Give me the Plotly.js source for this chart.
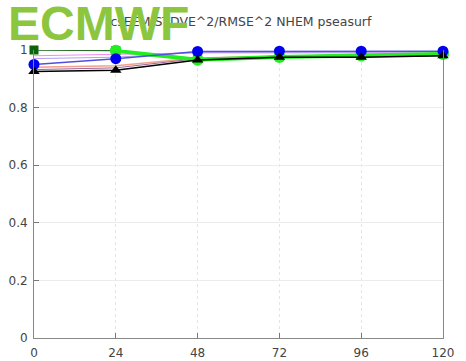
<!DOCTYPE html>
<html><head><meta charset="utf-8">
<script src="https://cdn.plot.ly/plotly-3.0.1.min.js"></script>
<style>body{margin:0;padding:0;background:#fff}#chart{width:466px;height:361px}</style>
</head><body><div id="chart"></div>
<script>
const steps = [0, 24, 48, 72, 96, 120];
const yTicks = [0, 0.2, 0.4, 0.6, 0.8, 1];
const yTickText = ["0", "0.2", "0.4", "0.6", "0.8", "1"];
const seriesMagenta = [0.980, 0.985, 0.990, 0.990, 0.990, 0.990];
const seriesViolet = [0.970, 0.975, 0.992, 0.993, 0.993, 0.993];
const seriesSalmon = [0.940, 0.945, 0.972, 0.978, 0.978, 0.982];
const seriesPurple = [0.932, 0.938, 0.970, 0.976, 0.976, 0.980];
const seriesDarkGreen = [1.000, 0.998, 0.968, 0.978, 0.983, 0.988];
const seriesLime = [null, 0.997, 0.966, 0.976, 0.981, 0.986];
const seriesBlue = [0.950, 0.970, 0.995, 0.996, 0.996, 0.996];
const seriesBlack = [0.925, 0.930, 0.965, 0.975, 0.975, 0.980];
const chartTitle = "csEEM STDVE^2/RMSE^2 NHEM pseasurf";
const logoText = "ECMWF";

const traces = [
  {x: steps, y: seriesMagenta, mode: 'lines', line: {color: '#f08cf0', width: 1}},
  {x: steps, y: seriesViolet, mode: 'lines', line: {color: '#b4a0f0', width: 1}},
  {x: steps, y: seriesSalmon, mode: 'lines', line: {color: '#f0a08c', width: 1.5}},
  {x: steps, y: seriesPurple, mode: 'lines', line: {color: '#a06496', width: 1}},
  {x: steps, y: seriesDarkGreen, mode: 'lines+markers', line: {color: '#2a6e2a', width: 1.5}, marker: {symbol: 'square', size: 9, color: '#0a640a'}},
  {x: steps, y: seriesLime, mode: 'lines+markers', line: {color: '#22ee22', width: 4}, marker: {symbol: 'circle', size: 12, color: '#22ee22'}},
  {x: steps, y: seriesBlue, mode: 'lines+markers', line: {color: '#5050e0', width: 1.5}, marker: {symbol: 'circle', size: 11, color: '#0000ee'}},
  {x: steps, y: seriesBlack, mode: 'lines+markers', line: {color: '#000000', width: 1.5}, marker: {symbol: 'triangle-up', size: 10, color: '#000000'}}
];
traces.forEach(t => { t.cliponaxis = false; t.showlegend = false; t.hoverinfo = 'skip'; });

const layout = {
  width: 466, height: 361,
  margin: {l: 34, r: 23, t: 50, b: 23, pad: 0},
  paper_bgcolor: '#ffffff', plot_bgcolor: '#ffffff',
  showlegend: false,
  title: {text: chartTitle, x: 0.517, xanchor: 'center', y: 0.94, yanchor: 'middle',
          font: {family: 'DejaVu Sans, sans-serif', size: 12.5, color: '#444444'}},
  xaxis: {range: [0, 120], tickvals: steps, ticktext: steps.map(String),
          ticks: 'inside', ticklen: 5, tickcolor: '#777777', ticklabelstandoff: 4,
          showline: true, linecolor: '#888888', linewidth: 1, mirror: false,
          showgrid: true, gridcolor: '#e4e4e4', griddash: 'dot', gridwidth: 1,
          zeroline: false, fixedrange: true,
          tickfont: {family: 'DejaVu Sans, sans-serif', size: 12, color: '#444444'}},
  yaxis: {range: [0, 1], tickvals: yTicks, ticktext: yTickText,
          ticks: 'inside', ticklen: 5, tickcolor: '#777777', ticklabelstandoff: 3,
          showline: true, linecolor: '#888888', linewidth: 1, mirror: true,
          showgrid: true, gridcolor: '#ececec', gridwidth: 1,
          zeroline: false, fixedrange: true,
          tickfont: {family: 'DejaVu Sans, sans-serif', size: 12, color: '#444444'}},
  annotations: [{
    text: '<b>' + logoText + '</b>', xref: 'paper', yref: 'paper',
    x: -0.066, y: 1.188, xanchor: 'left', yanchor: 'top', showarrow: false,
    font: {family: 'Liberation Sans, Arial, sans-serif', size: 48, color: '#8cc63e'},
    borderpad: 0
  }]
};
Plotly.newPlot('chart', traces, layout, {staticPlot: true, displayModeBar: false});
</script></body></html>
